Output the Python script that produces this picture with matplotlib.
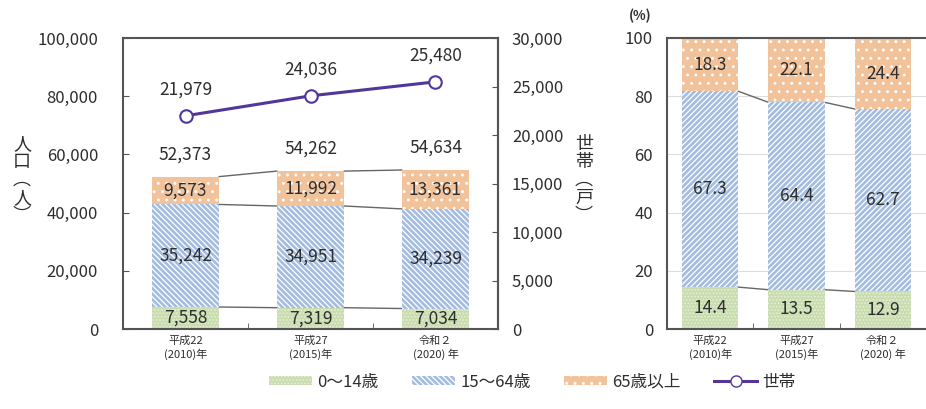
import numpy as np
import matplotlib.pyplot as plt
from matplotlib.patches import Patch
from matplotlib.lines import Line2D

plt.rcParams['font.family'] = ['Noto Sans CJK JP', 'DejaVu Sans']
plt.rcParams['hatch.linewidth'] = 0.9

# 年次
years = ['平成22\n(2010)年', '平成27\n(2015)年', '令和２\n(2020) 年']

# 年齢3区分別人口（人）
pop_0_14 = [7558, 7319, 7034]
pop_15_64 = [35242, 34951, 34239]
pop_65 = [9573, 11992, 13361]
pop_total = [52373, 54262, 54634]

# 世帯数（戸）
households = [21979, 24036, 25480]

# 構成比（%）
pct_0_14 = [14.4, 13.5, 12.9]
pct_15_64 = [67.3, 64.4, 62.7]
pct_65 = [18.3, 22.1, 24.4]

c_green = '#c8dcae'
c_blue = '#a3bce0'
c_orange = '#f2c39b'
c_line = '#52369a'
c_text = '#2e2e2e'
c_spine = '#555555'

# 塗りと模様（縞・点）
style_green = dict(color=c_green, edgecolor='#e4eed6', linewidth=0, hatch='.....')
style_blue_l = dict(color=c_blue, edgecolor='white', linewidth=0, hatch='\\' * 6)
style_blue_r = dict(color=c_blue, edgecolor='white', linewidth=0, hatch='/' * 6)
style_orange = dict(color=c_orange, edgecolor='white', linewidth=0, hatch='..')

fig = plt.figure(figsize=(9.26, 4.09), dpi=100)
ax = fig.add_axes([123 / 926, 80 / 409, 375 / 926, 291 / 409])
ax2 = ax.twinx()
axp = fig.add_axes([667 / 926, 80 / 409, 259 / 926, 291 / 409])

x = np.arange(len(years))
fs_num = 12.5


def fmt(v):
    return f'{v:,}'


# ---- 人口・世帯 ----
w = 0.54
b1 = np.array(pop_0_14)
b2 = b1 + np.array(pop_15_64)
b3 = b2 + np.array(pop_65)
ax.bar(x, pop_0_14, w, zorder=2, **style_green)
ax.bar(x, pop_15_64, w, bottom=b1, zorder=2, **style_blue_l)
ax.bar(x, pop_65, w, bottom=b2, zorder=2, **style_orange)

for tops in (b1, b2, b3):
    for i in range(len(x) - 1):
        ax.plot([x[i] + w / 2, x[i + 1] - w / 2], [tops[i], tops[i + 1]],
                color='#666666', lw=1, zorder=1)

for i in range(len(x)):
    ax.text(x[i], pop_0_14[i] / 2, fmt(pop_0_14[i]), ha='center', va='center',
            fontsize=fs_num, color=c_text, zorder=4)
    ax.text(x[i], b1[i] + pop_15_64[i] / 2, fmt(pop_15_64[i]), ha='center', va='center',
            fontsize=fs_num, color=c_text, zorder=4)
    ax.text(x[i], b2[i] + pop_65[i] / 2, fmt(pop_65[i]), ha='center', va='center',
            fontsize=fs_num, color=c_text, zorder=4)
    ax.annotate(fmt(pop_total[i]), (x[i], pop_total[i]), xytext=(0, 16),
                textcoords='offset points', ha='center', va='center',
                fontsize=fs_num, color=c_text)

ax.set_xlim(-0.5, 2.5)
ax.set_ylim(0, 100000)
ax.set_yticks(np.arange(0, 100001, 20000))
ax.set_yticklabels([fmt(v) for v in range(0, 100001, 20000)])
ax.tick_params(axis='y', direction='in', length=4, pad=18, labelsize=12,
               labelcolor=c_text, color=c_spine)
ax.set_xticks(x)
ax.set_xticklabels(years, fontsize=8, color=c_text, linespacing=1.3)
ax.tick_params(axis='x', length=0, pad=5)
ax.set_xticks([0.5, 1.5], minor=True)
ax.tick_params(axis='x', which='minor', direction='in', length=4, color=c_spine)
for s in ax.spines.values():
    s.set_color(c_spine)
    s.set_linewidth(1.5)

ax2.plot(x, households, color=c_line, lw=2.2, marker='o', markersize=9,
         markerfacecolor='white', markeredgecolor=c_line, markeredgewidth=1.5, zorder=5)
for i in range(len(x)):
    ax2.annotate(fmt(households[i]), (x[i], households[i]), xytext=(0, 19),
                 textcoords='offset points', ha='center', va='center',
                 fontsize=fs_num, color=c_text, zorder=6,
                 bbox=dict(boxstyle='square,pad=0.15', fc='white', ec='none'))
ax2.set_ylim(0, 30000)
ax2.set_yticks(np.arange(0, 30001, 5000))
ax2.set_yticklabels([fmt(v) for v in range(0, 30001, 5000)])
ax2.tick_params(axis='y', direction='in', length=4, pad=10, labelsize=12,
                labelcolor=c_text, color=c_spine)
for name in ('top', 'left', 'bottom'):
    ax2.spines[name].set_visible(False)
ax2.spines['right'].set_color(c_spine)
ax2.spines['right'].set_linewidth(1.5)

fig.text(22 / 926, 0.56, '人\n口\n︵\n人\n︶', ha='center', va='center',
         fontsize=13, color=c_text, linespacing=1.0)
fig.text(584 / 926, 0.56, '世\n帯\n︵\n戸\n︶', ha='center', va='center',
         fontsize=13, color=c_text, linespacing=1.0)

# ---- 構成比 ----
wp = 0.65
p1 = np.array(pct_0_14)
p2 = p1 + np.array(pct_15_64)
axp.bar(x, pct_0_14, wp, zorder=2, **style_green)
axp.bar(x, pct_15_64, wp, bottom=p1, zorder=2, **style_blue_r)
axp.bar(x, pct_65, wp, bottom=p2, zorder=2, **style_orange)
for tops in (p1, p2):
    for i in range(len(x) - 1):
        axp.plot([x[i] + wp / 2, x[i + 1] - wp / 2], [tops[i], tops[i + 1]],
                 color='#666666', lw=1, zorder=1)
for i in range(len(x)):
    axp.text(x[i], pct_0_14[i] / 2, f'{pct_0_14[i]:.1f}', ha='center', va='center',
             fontsize=fs_num, color=c_text, zorder=4)
    axp.text(x[i], p1[i] + pct_15_64[i] / 2, f'{pct_15_64[i]:.1f}', ha='center', va='center',
             fontsize=fs_num, color=c_text, zorder=4)
    axp.text(x[i], p2[i] + pct_65[i] / 2, f'{pct_65[i]:.1f}', ha='center', va='center',
             fontsize=fs_num, color=c_text, zorder=4)

axp.set_xlim(-0.5, 2.5)
axp.set_ylim(0, 100)
axp.set_yticks(np.arange(0, 101, 20))
axp.grid(axis='y', color='#dddddd', lw=0.8, zorder=0)
axp.tick_params(axis='y', length=0, pad=10, labelsize=12, labelcolor=c_text)
axp.set_xticks(x)
axp.set_xticklabels(years, fontsize=8, color=c_text, linespacing=1.3)
axp.tick_params(axis='x', length=0, pad=5)
axp.set_xticks([0.5, 1.5], minor=True)
axp.tick_params(axis='x', which='minor', direction='in', length=4, color=c_spine)
for name in ('left', 'bottom', 'top'):
    axp.spines[name].set_color(c_spine)
    axp.spines[name].set_linewidth(1.5)
axp.spines['right'].set_visible(False)
axp.set_axisbelow(True)
fig.text(640 / 926, 1 - 16 / 409, '(%)', ha='center', va='center',
         fontsize=9.5, fontweight='bold', color=c_text)

# ---- 凡例 ----
handles = [
    Patch(label='0～14歳', **{k: v for k, v in style_green.items() if k != 'color'},
          facecolor=c_green),
    Patch(label='15～64歳', **{k: v for k, v in style_blue_l.items() if k != 'color'},
          facecolor=c_blue),
    Patch(label='65歳以上', **{k: v for k, v in style_orange.items() if k != 'color'},
          facecolor=c_orange),
    Line2D([], [], color=c_line, lw=2.2, marker='o', markersize=8,
           markerfacecolor='white', markeredgecolor=c_line, label='世帯'),
]
fig.legend(handles=handles, loc='center', bbox_to_anchor=(0.575, 0.066), ncol=4,
           frameon=False, fontsize=12, handlelength=2.6, handleheight=0.5,
           handletextpad=0.3, columnspacing=2.0, labelcolor=c_text)

fig.savefig('out.png', dpi=100, facecolor='white')
